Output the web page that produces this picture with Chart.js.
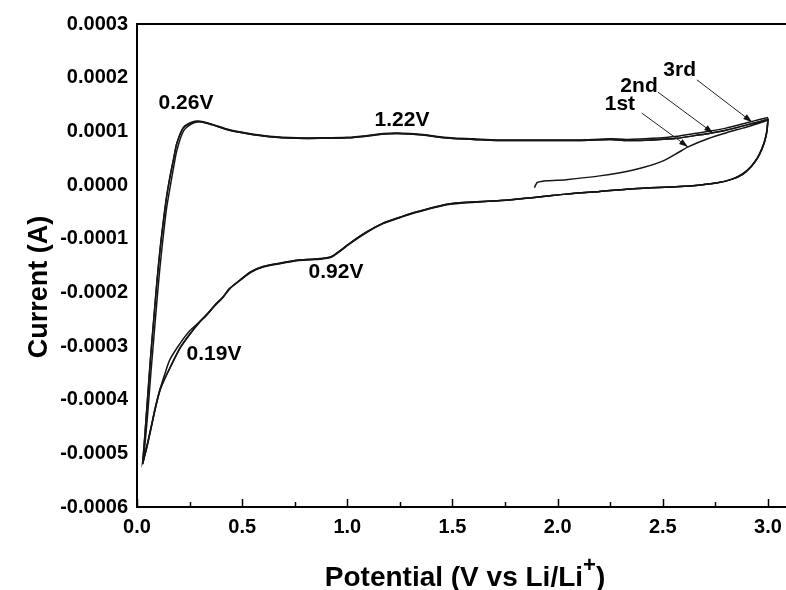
<!DOCTYPE html>
<html>
<head>
<meta charset="utf-8">
<script src="https://cdn.jsdelivr.net/npm/chart.js@4.4.1/dist/chart.umd.min.js"></script>
<style>
html,body{margin:0;padding:0;background:#fff;overflow:hidden;}
#wrap{width:792px;height:590px;}
</style>
</head>
<body>
<div id="wrap"><canvas id="c" width="792" height="590"></canvas></div>
<script>
// ---- Data (current in units of 1e-4 A, potential in V) ----
const xTickVals = [0, 0.5, 1.0, 1.5, 2.0, 2.5, 3.0];
const xMinorVals = [0.25, 0.75, 1.25, 1.75, 2.25, 2.75];
const yTickVals = [-6, -5, -4, -3, -2, -1, 0, 1, 2, 3];
const yTickLabels = ['-0.0006','-0.0005','-0.0004','-0.0003','-0.0002','-0.0001','0.0000','0.0001','0.0002','0.0003'];

// 1st cycle: start at open-circuit potential, anodic to 3.0 V
const potStart = [1.890, 1.895, 1.905, 1.95, 2.04, 2.20, 2.36, 2.49, 2.58, 2.62, 2.72, 2.80, 2.88, 2.95, 3.00];
const curStart = [-0.05, 0.00, 0.05, 0.08, 0.10, 0.17, 0.28, 0.43, 0.62, 0.71, 0.87, 0.97, 1.06, 1.14, 1.21];

// cathodic sweep 3.0 V -> 0.02 V
const potCath = [3.00, 2.995, 2.985, 2.97, 2.95, 2.92, 2.88, 2.83, 2.76, 2.68, 2.58, 2.36, 2.20, 2.04, 1.92, 1.73, 1.49, 1.33, 1.25, 1.17, 1.09, 1.01, 0.96, 0.92, 0.85, 0.76, 0.69, 0.60, 0.54, 0.49, 0.44, 0.41, 0.37, 0.33, 0.30, 0.25, 0.205, 0.157, 0.13, 0.11, 0.09, 0.065, 0.045, 0.027];
const curCath1 = [1.21, 1.00, 0.82, 0.66, 0.50, 0.34, 0.20, 0.11, 0.04, 0.00, -0.03, -0.07, -0.12, -0.17, -0.22, -0.29, -0.35, -0.50, -0.60, -0.71, -0.88, -1.09, -1.24, -1.34, -1.38, -1.40, -1.45, -1.52, -1.62, -1.77, -1.93, -2.08, -2.24, -2.42, -2.54, -2.72, -2.95, -3.25, -3.55, -3.80, -4.10, -4.55, -4.90, -5.20];
const curCath2 = [1.22, 1.00, 0.82, 0.66, 0.50, 0.34, 0.20, 0.11, 0.04, 0.00, -0.03, -0.07, -0.12, -0.17, -0.22, -0.29, -0.35, -0.50, -0.60, -0.71, -0.88, -1.09, -1.24, -1.34, -1.38, -1.40, -1.45, -1.52, -1.62, -1.77, -1.93, -2.08, -2.24, -2.42, -2.54, -2.78, -3.03, -3.40, -3.62, -3.80, -4.10, -4.55, -4.90, -5.20];
const curCath3 = [1.25, 1.02, 0.84, 0.67, 0.51, 0.35, 0.21, 0.11, 0.04, 0.00, -0.03, -0.07, -0.12, -0.17, -0.22, -0.29, -0.36, -0.51, -0.61, -0.72, -0.89, -1.10, -1.25, -1.35, -1.39, -1.41, -1.46, -1.53, -1.63, -1.78, -1.94, -2.09, -2.25, -2.43, -2.55, -2.79, -3.04, -3.41, -3.63, -3.82, -4.12, -4.57, -4.92, -5.15];

// anodic sweep 0.02 V -> 3.0 V
const potAnod = [0.027, 0.035, 0.05, 0.065, 0.08, 0.095, 0.11, 0.125, 0.14, 0.157, 0.175, 0.19, 0.22, 0.26, 0.30, 0.36, 0.44, 0.52, 0.63, 0.76, 0.885, 1.00, 1.09, 1.17, 1.235, 1.30, 1.36, 1.49, 1.60, 1.71, 1.90, 2.10, 2.25, 2.33, 2.45, 2.57, 2.65, 2.72, 2.80, 2.90, 2.96, 3.00];
const curAnod1 = [-5.20, -4.95, -4.30, -3.55, -2.85, -2.15, -1.50, -0.95, -0.45, -0.05, 0.35, 0.65, 1.00, 1.14, 1.18, 1.12, 1.02, 0.96, 0.90, 0.87, 0.87, 0.88, 0.91, 0.95, 0.96, 0.95, 0.93, 0.87, 0.85, 0.83, 0.83, 0.83, 0.85, 0.83, 0.84, 0.87, 0.92, 0.96, 1.02, 1.12, 1.18, 1.22];
const curAnod2 = [-5.20, -4.80, -4.00, -3.20, -2.50, -1.80, -1.20, -0.70, -0.25, 0.15, 0.50, 0.78, 1.06, 1.16, 1.18, 1.12, 1.02, 0.96, 0.90, 0.87, 0.87, 0.88, 0.91, 0.95, 0.96, 0.95, 0.93, 0.87, 0.85, 0.83, 0.83, 0.83, 0.85, 0.83, 0.84, 0.87, 0.92, 0.96, 1.02, 1.12, 1.18, 1.22];
const curAnod3 = [-5.15, -4.78, -3.98, -3.18, -2.48, -1.78, -1.18, -0.68, -0.23, 0.16, 0.51, 0.79, 1.07, 1.17, 1.19, 1.13, 1.03, 0.97, 0.91, 0.88, 0.88, 0.89, 0.92, 0.96, 0.97, 0.96, 0.94, 0.88, 0.86, 0.84, 0.84, 0.84, 0.86, 0.85, 0.87, 0.91, 0.96, 1.00, 1.06, 1.16, 1.22, 1.26];

// annotations
const annText = ['0.26V', '1.22V', '0.92V', '0.19V', '1st', '2nd', '3rd'];
const annX = [0.233, 1.26, 0.946, 0.366, 2.296, 2.387, 2.58];
const annY = [1.53, 1.21, -1.62, -3.15, 1.51, 1.84, 2.14];
const arrowFromX = [2.40, 2.477, 2.662];
const arrowFromY = [1.34, 1.73, 1.96];
const arrowToX = [2.62, 2.739, 2.925];
const arrowToY = [0.71, 0.97, 1.17];

const xTitle = 'Potential (V vs Li/Li';
const xTitleSup = '+';
const yTitle = 'Current (A)';

// ---- build ----
function pts(xs, ys){ return xs.map((v,i)=>({x:v, y:ys[i]})); }
const cycle1 = [].concat(pts(potStart,curStart), pts(potCath,curCath1), pts(potAnod,curAnod1));
const cycle2 = [].concat(pts(potCath,curCath2), pts(potAnod,curAnod2));
const cycle3 = [].concat(pts(potCath,curCath3), pts(potAnod,curAnod3));

const FONT = '"Liberation Sans", Arial, sans-serif';

const decor = {
  id:'decor',
  afterDraw(chart){
    const {ctx, chartArea:a, scales:{x, y}} = chart;
    ctx.save();
    ctx.strokeStyle = '#000';
    ctx.lineWidth = 2;
    ctx.beginPath(); ctx.moveTo(a.left-1, a.top); ctx.lineTo(a.right, a.top); ctx.stroke();
    // inward x ticks
    ctx.lineWidth = 1.5;
    xTickVals.forEach(v=>{ const px = Math.round(x.getPixelForValue(v))+0.5; ctx.beginPath(); ctx.moveTo(px, a.bottom); ctx.lineTo(px, a.bottom-8); ctx.stroke(); });
    xMinorVals.forEach(v=>{ const px = Math.round(x.getPixelForValue(v))+0.5; ctx.beginPath(); ctx.moveTo(px, a.bottom); ctx.lineTo(px, a.bottom-5); ctx.stroke(); });
    // annotation text
    ctx.fillStyle = '#000';
    ctx.font = 'bold 21px ' + FONT;
    ctx.textAlign = 'center'; ctx.textBaseline = 'middle';
    annText.forEach((t,i)=>ctx.fillText(t, x.getPixelForValue(annX[i]), y.getPixelForValue(annY[i])));
    // arrows
    ctx.lineWidth = 1;
    ctx.strokeStyle = '#222'; ctx.fillStyle = '#111';
    arrowFromX.forEach((v,i)=>{
      const x1 = x.getPixelForValue(v), y1 = y.getPixelForValue(arrowFromY[i]);
      const x2 = x.getPixelForValue(arrowToX[i]), y2 = y.getPixelForValue(arrowToY[i]);
      ctx.beginPath(); ctx.moveTo(x1,y1); ctx.lineTo(x2,y2); ctx.stroke();
      const ang = Math.atan2(y2-y1, x2-x1), L = 9, W = 3;
      ctx.beginPath();
      ctx.moveTo(x2,y2);
      ctx.lineTo(x2 - L*Math.cos(ang) + W*Math.sin(ang), y2 - L*Math.sin(ang) - W*Math.cos(ang));
      ctx.lineTo(x2 - L*Math.cos(ang) - W*Math.sin(ang), y2 - L*Math.sin(ang) + W*Math.cos(ang));
      ctx.closePath(); ctx.fill();
    });
    // axis titles
    ctx.fillStyle = '#000';
    ctx.font = 'bold 28px ' + FONT;
    ctx.textBaseline = 'alphabetic';
    const cx = 465;
    const w1 = ctx.measureText(xTitle).width;
    ctx.font = 'bold 22px ' + FONT;
    const w2 = ctx.measureText(xTitleSup).width;
    ctx.font = 'bold 28px ' + FONT;
    const w3 = ctx.measureText(')').width;
    const total = w1 + w2 + w3;
    let sx = cx - total/2;
    const by = 586;
    ctx.textAlign = 'left';
    ctx.fillText(xTitle, sx, by);
    ctx.font = 'bold 22px ' + FONT;
    ctx.fillText(xTitleSup, sx + w1, by - 14);
    ctx.font = 'bold 28px ' + FONT;
    ctx.fillText(')', sx + w1 + w2, by);
    ctx.save();
    ctx.font = 'bold 27px ' + FONT;
    ctx.translate(40, 287);
    ctx.rotate(-Math.PI/2);
    ctx.textAlign = 'center'; ctx.textBaseline = 'middle';
    ctx.fillText(yTitle, 0, 0);
    ctx.restore();
    ctx.restore();
  }
};

const lineStyle = {showLine:true, pointRadius:0, borderColor:'#151515', borderWidth:1.5, tension:0.3, fill:false};

new Chart(document.getElementById('c'), {
  type:'scatter',
  data:{ datasets:[
    Object.assign({label:'1st', data:cycle1}, lineStyle),
    Object.assign({label:'2nd', data:cycle2}, lineStyle),
    Object.assign({label:'3rd', data:cycle3}, lineStyle)
  ]},
  options:{
    responsive:false, animation:false, devicePixelRatio:1,
    layout:{padding:{top:24, right:3, left:0, bottom:0}},
    plugins:{legend:{display:false}, tooltip:{enabled:false}},
    scales:{
      x:{type:'linear', min:0, max:3.1,
        grid:{display:false, drawTicks:false},
        border:{display:true, color:'#000', width:2},
        afterBuildTicks:s=>{ s.ticks = xTickVals.map(v=>({value:v})); },
        afterFit:s=>{ s.height = 83; },
        ticks:{padding:8, color:'#000', font:{family:FONT, weight:'bold', size:20}, maxRotation:0,
          callback:v=>v.toFixed(1)}
      },
      y:{type:'linear', min:-6, max:3,
        grid:{display:false, drawTicks:false},
        border:{display:true, color:'#000', width:2},
        afterBuildTicks:s=>{ s.ticks = yTickVals.map(v=>({value:v})); },
        afterFit:s=>{ s.width = 137; },
        ticks:{padding:9, color:'#000', font:{family:FONT, weight:'bold', size:20},
          callback:(v)=>yTickLabels[yTickVals.indexOf(v)]}
      }
    }
  },
  plugins:[decor]
});
</script>
</body>
</html>
